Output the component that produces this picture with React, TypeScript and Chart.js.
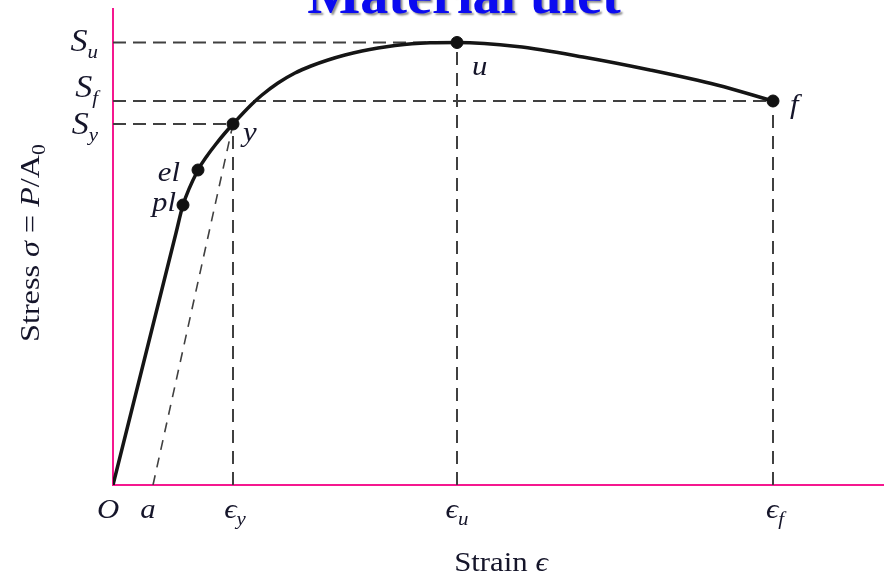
import React, { useEffect, useRef } from "react";
import { Chart, registerables } from "chart.js";
Chart.register(...registerables);

// ---- data (arbitrary strain / stress units) ----
const curveStrain = [0, 35, 63, 70, 85, 94, 103, 112, 120, 138, 149, 165, 182, 198, 215, 232, 249, 265, 282, 299, 317, 344, 404, 470, 537, 604, 660];
const curveStress = [0, 140, 252, 280, 315, 329, 341, 352, 361, 380, 390, 402, 412, 419, 425, 430, 434, 437, 439.5, 441.3, 442.2, 442.5, 438.5, 428, 415, 400, 384];

const markerNames = ["pl", "el", "y", "u", "f"];
const markerStrain = [70, 85, 120, 344, 660];
const markerStress = [280, 315, 361, 442.5, 384];

const strainA = 40; // offset line start "a"
const strainY = 120;
const strainU = 344;
const strainF = 660;
const stressY = 361;
const stressU = 442.5;
const stressF = 384;

const stressTickMain = ["S", "S", "S"];
const stressTickSub = ["u", "f", "y"];
const stressTickValues = [stressU, stressF, stressY];

const strainTickMain = ["O", "a", "ϵ", "ϵ", "ϵ"];
const strainTickSub = ["", "", "y", "u", "f"];
const strainTickValues = [0, strainA, strainY, strainU, strainF];

const strainMax = 771;
const stressMax = 477;

const titleText = "Material ulet";
const xTitleText = "Strain ";
const yTitleText = "Stress ";

// ---- styles ----
const FONT = '"Liberation Serif","DejaVu Serif",serif';
const PINK = "#f5188f";
const TEXT = "#15152a";
const SX = 1.1;
const yTickDy = [8, -4, 10];
const xTickDx = [-5, -5, 2, 0, 2];
const markerLabelDx = [-7, -18, 10, 15, 17];
const markerLabelDy = [6, 11, 17, 32, 12];
const markerLabelAlign = ["right", "right", "left", "left", "left"];

type Run = { t: string; font: string; dy?: number };

function drawRuns(ctx: CanvasRenderingContext2D, runs: Run[], x: number, y: number, align: string, sx: number, rot = 0) {
  ctx.save();
  let w = 0;
  const ws: number[] = [];
  for (const r of runs) {
    ctx.font = r.font;
    const m = ctx.measureText(r.t).width;
    ws.push(m);
    w += m;
  }
  ctx.translate(x, y);
  if (rot) ctx.rotate(rot);
  ctx.scale(sx, 1);
  let cx = align === "left" ? 0 : align === "right" ? -w : -w / 2;
  ctx.textBaseline = "alphabetic";
  ctx.textAlign = "left";
  runs.forEach((r, i) => {
    ctx.font = r.font;
    ctx.fillText(r.t, cx, r.dy || 0);
    cx += ws[i];
  });
  ctx.restore();
}

const pts = (xs: number[], ys: number[]) => xs.map((x, i) => ({ x, y: ys[i] }));

export default function App() {
  const ref = useRef<HTMLCanvasElement | null>(null);
  useEffect(() => {
    document.body.style.margin = "0";
    const canvas = ref.current!;
    const dash = { borderColor: "#404040", borderWidth: 2, borderDash: [13, 7], pointRadius: 0, showLine: true, fill: false, tension: 0 };
    const vdash = { ...dash, borderDash: [13, 8] };

    const overlay = {
      id: "overlay",
      beforeDatasetsDraw(chart: any) {
        const ctx = chart.ctx as CanvasRenderingContext2D;
        const a = chart.chartArea;
        ctx.save();
        ctx.strokeStyle = PINK;
        ctx.lineWidth = 2;
        ctx.beginPath();
        ctx.moveTo(a.left, a.top);
        ctx.lineTo(a.left, a.bottom);
        ctx.lineTo(a.right, a.bottom);
        ctx.stroke();
        ctx.restore();
      },
      afterDraw(chart: any) {
        const ctx = chart.ctx as CanvasRenderingContext2D;
        const xs = chart.scales.x;
        const ys = chart.scales.y;
        const a = chart.chartArea;
        ctx.save();
        // title
        ctx.save();
        ctx.shadowColor = "rgba(0,0,0,0.45)";
        ctx.shadowOffsetX = 2;
        ctx.shadowOffsetY = 2;
        ctx.shadowBlur = 2;
        ctx.fillStyle = "#0b0bf0";
        drawRuns(ctx, [{ t: titleText, font: `bold 54px ${FONT}` }], 464, 13, "center", 1.04);
        ctx.restore();

        ctx.fillStyle = TEXT;
        const it = `italic 28px ${FONT}`;
        const big = `italic 31px ${FONT}`;
        const sub = `italic 19px ${FONT}`;
        // y ticks
        stressTickValues.forEach((v, i) => {
          const py = ys.getPixelForValue(v) + yTickDy[i];
          drawRuns(ctx, [{ t: stressTickMain[i], font: big }, { t: stressTickSub[i], font: sub, dy: 7 }], a.left - 15, py, "right", SX);
        });
        // x ticks
        strainTickValues.forEach((v, i) => {
          const px = xs.getPixelForValue(v) + xTickDx[i];
          const runs: Run[] = [{ t: strainTickMain[i], font: it }];
          if (strainTickSub[i]) runs.push({ t: strainTickSub[i], font: sub, dy: 7 });
          drawRuns(ctx, runs, px, a.bottom + 33, "center", SX);
        });
        // marker labels
        markerNames.forEach((n, i) => {
          const px = xs.getPixelForValue(markerStrain[i]) + markerLabelDx[i];
          const py = ys.getPixelForValue(markerStress[i]) + markerLabelDy[i];
          drawRuns(ctx, [{ t: n, font: it }], px, py, markerLabelAlign[i], SX);
        });
        // x title
        drawRuns(ctx, [{ t: xTitleText, font: `28px ${FONT}` }, { t: "ϵ", font: `italic 28px ${FONT}` }], 501, a.bottom + 86, "center", SX);
        // y title
        drawRuns(
          ctx,
          [
            { t: yTitleText, font: `28px ${FONT}` },
            { t: "σ", font: `italic 28px ${FONT}` },
            { t: " = ", font: `28px ${FONT}` },
            { t: "P", font: `italic 28px ${FONT}` },
            { t: "/A", font: `28px ${FONT}` },
            { t: "0", font: `19px ${FONT}`, dy: 6 },
          ],
          39,
          243,
          "center",
          1.15,
          -Math.PI / 2
        );
        ctx.restore();
      },
    };

    const chart = new Chart(canvas, {
      type: "scatter",
      data: {
        datasets: [
          {
            data: pts(markerStrain, markerStress),
            pointRadius: 6,
            pointBackgroundColor: "#111",
            pointBorderColor: "#111",
            showLine: false,
          } as any,
          {
            data: pts(curveStrain, curveStress),
            borderColor: "#151515",
            borderWidth: 3.5,
            pointRadius: 0,
            showLine: true,
            cubicInterpolationMode: "monotone",
          } as any,
          { ...dash, data: pts([0, strainU], [stressU, stressU]) },
          { ...dash, data: pts([0, strainF], [stressF, stressF]) },
          { ...dash, data: pts([0, strainY], [stressY, stressY]) },
          { ...vdash, data: pts([strainY, strainY], [0, stressY]) },
          { ...vdash, data: pts([strainU, strainU], [0, stressU]) },
          { ...vdash, data: pts([strainF, strainF], [0, stressF]) },
          { ...vdash, borderWidth: 1.6, borderDash: [10, 8], data: pts([strainA, strainY], [0, stressY]) },
        ],
      },
      options: {
        animation: false,
        responsive: false,
        devicePixelRatio: 1,
        layout: { autoPadding: false, padding: { left: 113, top: 8, right: 0, bottom: 93 } },
        plugins: { legend: { display: false }, tooltip: { enabled: false }, title: { display: false } },
        scales: {
          x: { type: "linear", display: false, min: 0, max: strainMax },
          y: { type: "linear", display: false, min: 0, max: stressMax },
        },
      },
      plugins: [overlay],
    });
    return () => chart.destroy();
  }, []);
  return <canvas ref={ref} width={884} height={578} style={{ display: "block" }} />;
}
